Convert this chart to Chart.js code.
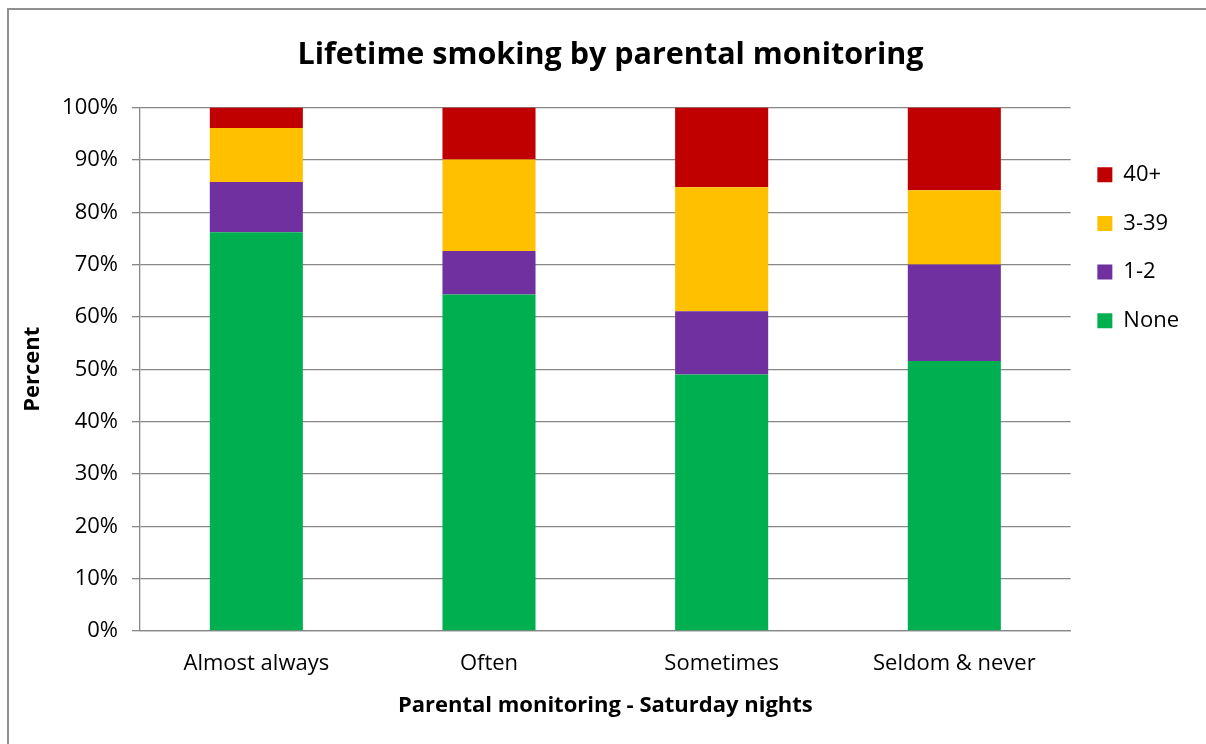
<!DOCTYPE html>
<html>
<head>
<meta charset="utf-8">
<script src="https://cdn.jsdelivr.net/npm/chart.js@4/dist/chart.umd.min.js"></script>
<style>
  html, body { margin: 0; padding: 0; background: #fff; overflow: hidden; }
  #wrap { position: relative; width: 1206px; height: 744px; }
  #frame { position: absolute; left: 7px; top: 8px; width: 1300px; height: 800px; border: 2px solid #8f8f8f; box-sizing: border-box; }
  canvas { position: absolute; left: 0; top: 0; }
</style>
</head>
<body>
<div id="wrap">
  <div id="frame"></div>
  <canvas id="c" width="1206" height="744"></canvas>
</div>
<script>
const categories = ["Almost always", "Often", "Sometimes", "Seldom & never"];
const none = [76.2, 64.3, 49.0, 51.6];
const oneTwo = [9.6, 8.3, 12.1, 18.4];
const threeThirtyNine = [10.3, 17.5, 23.7, 14.2];
const fortyPlus = [3.9, 9.9, 15.2, 15.8];
const yTicks = [0, 10, 20, 30, 40, 50, 60, 70, 80, 90, 100];

const FONT = "'Open Sans', 'Noto Sans', sans-serif";
const gridColor = '#878787';

new Chart(document.getElementById('c'), {
  type: 'bar',
  data: {
    labels: categories,
    datasets: [
      { label: 'None', data: none, backgroundColor: '#00B050' },
      { label: '1-2', data: oneTwo, backgroundColor: '#7030A0' },
      { label: '3-39', data: threeThirtyNine, backgroundColor: '#FFC000' },
      { label: '40+', data: fortyPlus, backgroundColor: '#C00000' }
    ]
  },
  options: {
    responsive: false,
    animation: false,
    layout: { padding: { left: 32, right: 17, top: 0, bottom: 0 } },
    datasets: { bar: { barPercentage: 0.4, categoryPercentage: 1.0, borderWidth: 0 } },
    plugins: {
      title: {
        display: true,
        text: 'Lifetime smoking by parental monitoring',
        color: '#000',
        font: { family: FONT, size: 30.5, weight: 'bold' },
        padding: { top: 37.5, bottom: 33.5 }
      },
      legend: {
        position: 'right',
        align: 'start',
        reverse: true,
        title: { display: true, text: ' ', font: { size: 10 }, padding: { top: 9, bottom: 116 } },
        labels: {
          boxWidth: 15, boxHeight: 15, padding: 26.7,
          color: '#000',
          font: { family: FONT, size: 22 }
        }
      },
      tooltip: { enabled: false }
    },
    scales: {
      x: {
        stacked: true,
        grid: { display: false, drawTicks: false },
        border: { display: true, color: gridColor, width: 1.3 },
        ticks: { color: '#000', font: { family: FONT, size: 22 }, padding: 20 },
        title: {
          display: true,
          text: 'Parental monitoring - Saturday nights',
          color: '#000',
          font: { family: FONT, size: 22, weight: 'bold' },
          padding: { top: 0, bottom: 24.8 }
        },
        afterFit: (s) => { s.height = 113; }
      },
      y: {
        stacked: true,
        min: 0, max: 100,
        afterBuildTicks: (s) => { s.ticks = yTicks.map(v => ({ value: v })); },
        grid: { color: gridColor, lineWidth: 1.3, tickLength: 8, drawTicks: true, tickColor: gridColor },
        border: { display: true, color: gridColor, width: 1.3 },
        ticks: {
          color: '#000', font: { family: FONT, size: 22 }, padding: 14,
          callback: (v) => v + '%'
        },
        title: {
          display: true,
          text: 'Percent',
          color: '#000',
          font: { family: FONT, size: 22, weight: 'bold' },
          padding: { top: -12.2, bottom: 0 }
        },
        afterFit: (s) => { s.width = 108; }
      }
    }
  }
});
</script>
</body>
</html>
